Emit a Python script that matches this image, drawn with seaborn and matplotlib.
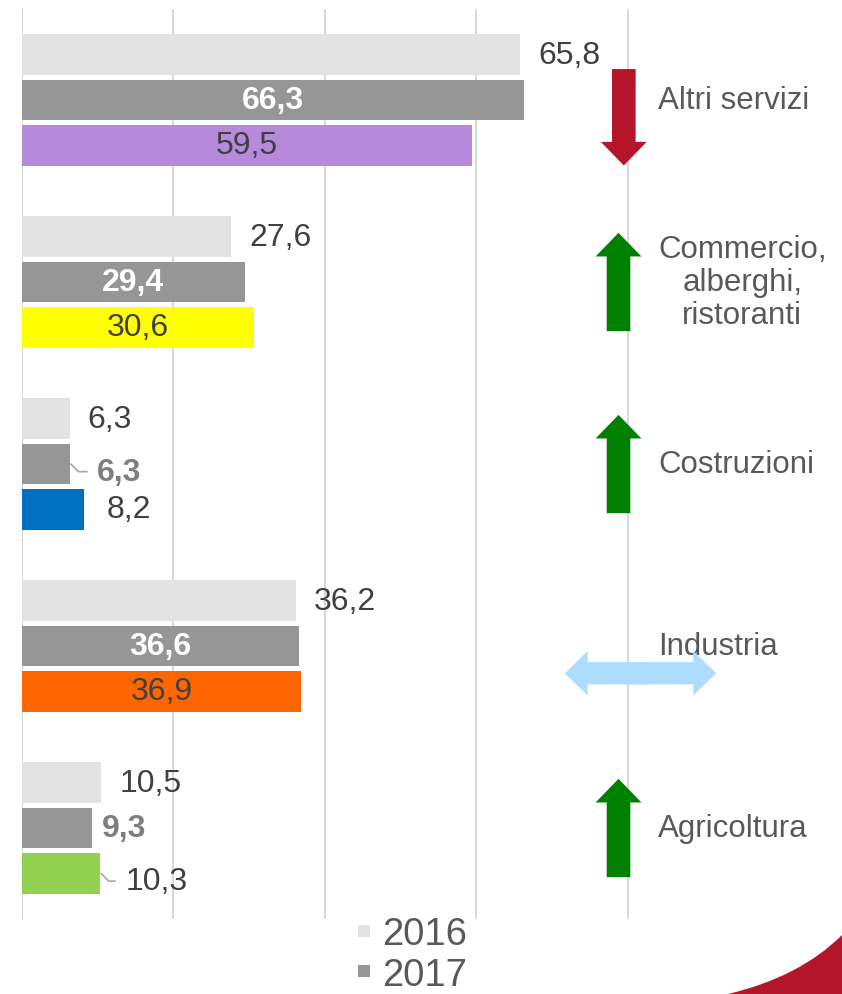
import matplotlib.pyplot as plt
import matplotlib.patches as mpatches
from matplotlib.lines import Line2D
from matplotlib.path import Path
import pandas as pd
import seaborn as sns

settori = ["Altri servizi", "Commercio,\nalberghi,\nristoranti", "Costruzioni", "Industria", "Agricoltura"]
anni = ["2016", "2017", "2018"]
valori_2016 = [65.8, 27.6, 6.3, 36.2, 10.5]
valori_2017 = [66.3, 29.4, 6.3, 36.6, 9.3]
valori_2018 = [59.5, 30.6, 8.2, 36.9, 10.3]
colori_2018 = ["#B789DB", "#FFFF00", "#0070C0", "#FF6600", "#92D050"]
# etichette spostate a mano (settore, anno) -> con linea guida
etichette_guida = [(2, "2017"), (4, "2018")]

df = pd.DataFrame({
    "settore": settori * 3,
    "anno": [a for a in anni for _ in settori],
    "valore": valori_2016 + valori_2017 + valori_2018,
})

sns.set_theme(style="white")
plt.rcParams['font.family'] = ['Liberation Sans', 'DejaVu Sans']

fig = plt.figure(figsize=(8.42, 9.95), dpi=100)
ax = fig.add_axes([22 / 842, 1 - 920 / 995, 1 - 22 / 842, 910 / 995])

sns.barplot(data=df, x="valore", y="settore", hue="anno", orient="h",
            palette=["#E3E3E3", "#969696", "#969696"], width=0.75, gap=0.1,
            saturation=1, legend=False, ax=ax)

bars = sorted(ax.patches, key=lambda p: p.get_y())
valori = {"2016": valori_2016, "2017": valori_2017, "2018": valori_2018}


def fmt(v):
    return f"{v:.1f}".replace(".", ",")


for k, bar in enumerate(bars):
    i, anno = k // 3, anni[k % 3]
    v = valori[anno][i]
    yc = bar.get_y() + bar.get_height() / 2
    bar.set_edgecolor("none")
    if anno == "2018":
        bar.set_facecolor(colori_2018[i])
    guida = (i, anno) in etichette_guida
    inside = anno != "2016" and v >= 15
    if inside:
        ax.text(v / 2, yc, fmt(v), ha="center", va="center", fontsize=23,
                color="white" if anno == "2017" else "#404040",
                fontweight="bold" if anno == "2017" else "normal")
        continue
    colore = "#7F7F7F" if anno == "2017" else "#404040"
    peso = "bold" if anno == "2017" else "normal"
    if guida:
        dx = 19 if anno == "2017" else 17.5
        ax.annotate(fmt(v), xy=(v + 0.15, yc), xytext=(dx, -5.5), textcoords="offset points",
                    ha="left", va="center", fontsize=23, color=colore, fontweight=peso,
                    arrowprops=dict(arrowstyle="-", color="#A6A6A6", lw=1.2,
                                    shrinkA=5, shrinkB=0, relpos=(0, 0.5),
                                    connectionstyle="angle,angleA=0,angleB=-45,rad=0"))
    else:
        dx = 7 if anno == "2017" else (16 if anno == "2018" else 13)
        ax.annotate(fmt(v), xy=(v, yc), xytext=(dx, 0), textcoords="offset points",
                    ha="left", va="center", fontsize=23, color=colore, fontweight=peso)

# etichette settori e frecce di tendenza
for i, nome in enumerate(settori):
    ax.text(84, i, nome, ha="left", va="center", multialignment="center",
            fontsize=22.5, color="#595959", linespacing=1.15)
    diff = valori_2018[i] - valori_2017[i]
    if abs(diff) < 0.5:
        stile = "simple,head_length=16.5,head_width=32,tail_width=16"
        for inizio, fine in ((82.7, 71.7), (80.7, 91.7)):
            ax.add_patch(mpatches.FancyArrowPatch(
                (inizio, i + 0.15), (fine, i + 0.15), arrowstyle=stile, mutation_scale=1,
                color="#ADDCFF", lw=0, shrinkA=0, shrinkB=0, zorder=5))
    else:
        stile = "simple,head_length=17,head_width=33,tail_width=17"
        if diff > 0:
            a, b, col, x = (i + 0.27, i - 0.27, "#008000", 78.8)
        else:
            a, b, col, x = (i - 0.17, i + 0.36, "#B5152B", 79.5)
        ax.add_patch(mpatches.FancyArrowPatch(
            (x, a), (x, b), arrowstyle=stile, mutation_scale=1,
            color=col, lw=0, shrinkA=0, shrinkB=0, zorder=5))

ax.set_xlim(0, (842 - 22) / 7.57)
ax.set_ylim(4.5, -0.5)
ax.set_xticks([0, 20, 40, 60, 80])
ax.set_xticklabels([])
ax.set_yticks([])
ax.tick_params(length=0)
ax.xaxis.grid(True, color="#D9D9D9", lw=1.5)
ax.set_axisbelow(True)
ax.set_xlabel("")
ax.set_ylabel("")
for s in ax.spines.values():
    s.set_visible(False)

handles = [Line2D([], [], marker="s", ls="none", markersize=8, color=c, markeredgewidth=0)
           for c in ["#E3E3E3", "#969696"]]
fig.legend(handles, ["2016", "2017"], loc="upper left",
           bbox_to_anchor=(354 / 842, 1 - 917 / 995), frameon=False, fontsize=27.5,
           labelcolor="#595959", handlelength=0.5, handletextpad=0.24,
           labelspacing=0.12, borderpad=0, borderaxespad=0)

# decorazione rossa in basso a destra
W, H = 842, 995
pts = [(728, 995), (800, 978), (842, 936), (842, 995), (728, 995)]
path = Path([(x / W, 1 - y / H) for x, y in pts],
            [Path.MOVETO, Path.CURVE3, Path.CURVE3, Path.LINETO, Path.CLOSEPOLY])
fig.patches.append(mpatches.PathPatch(path, transform=fig.transFigure,
                                      facecolor="#B5152B", edgecolor="none"))

fig.savefig("out.png", dpi=100)
